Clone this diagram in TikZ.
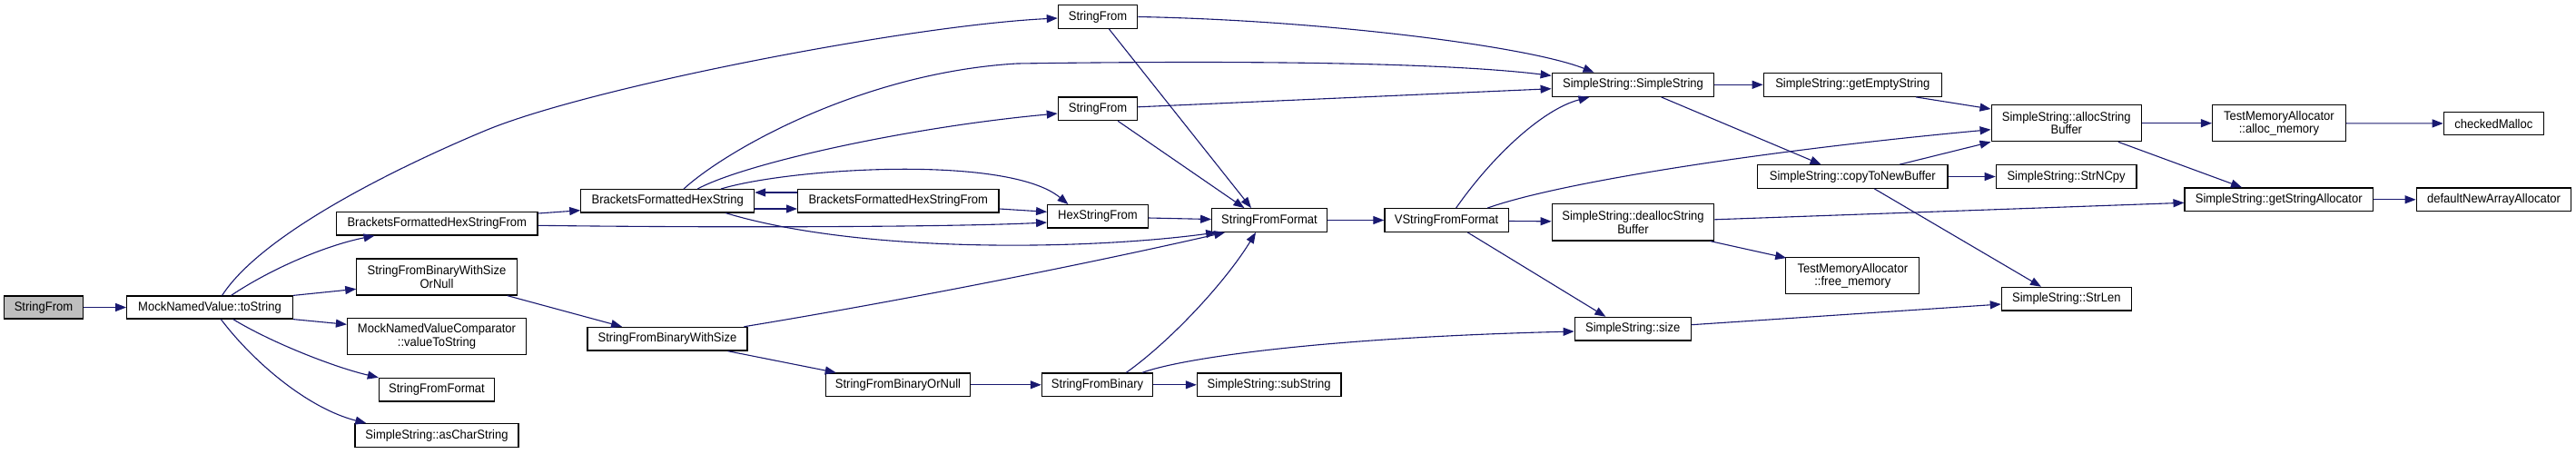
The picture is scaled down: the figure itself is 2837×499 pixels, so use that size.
\documentclass[tikz,border=0pt]{standalone}
\usepackage{fontspec}
\setmainfont{Liberation Sans}[FakeStretch=0.93]
\usetikzlibrary{arrows.meta,calc}
\definecolor{edgeblue}{RGB}{25,25,112}
\definecolor{rootgray}{RGB}{191,191,191}
\begin{document}
\begin{tikzpicture}[x=1pt,y=-1pt,
  box/.style={draw=black,line width=1.2pt,fill=white,inner sep=0pt,align=center,
    font=\fontsize{14}{14.5}\selectfont},
  e/.style={draw=edgeblue,line width=1.1pt,-{Triangle[length=12pt,width=9pt]}}]
\useasboundingbox[fill=white] (0,0) rectangle (2837,499);
% ---- nodes ----
\node[box,fill=rootgray,minimum width=87pt,minimum height=25pt] (root) at (48,338.5) {StringFrom};
\node[box,minimum width=182.6pt,minimum height=25pt] (toS) at (231,338.5) {MockNamedValue::toString};
\node[box,minimum width=221.4pt,minimum height=25.3pt] (A) at (481.3,246.3) {BracketsFormattedHexStringFrom};
\node[box,minimum width=176.3pt,minimum height=40pt] (orNull) at (481,305) {StringFromBinaryWithSize\\OrNull};
\node[box,minimum width=197pt,minimum height=39.7pt] (cmp) at (481,370.5) {MockNamedValueComparator\\::valueToString};
\node[box,minimum width=127.2pt,minimum height=25.7pt] (sffB) at (481,429.2) {StringFromFormat};
\node[box,minimum width=180pt,minimum height=25.7pt] (asChar) at (481,479.5) {SimpleString::asCharString};
\node[box,minimum width=87.3pt,minimum height=25.7pt] (sfC) at (1209,18.5) {StringFrom};
\node[box,minimum width=87.3pt,minimum height=25.7pt] (sfD) at (1209,119.8) {StringFrom};
\node[box,minimum width=190.8pt,minimum height=25.3pt] (bfhs) at (735.2,221.3) {BracketsFormattedHexString};
\node[box,minimum width=221.4pt,minimum height=25.3pt] (E) at (989.3,221.3) {BracketsFormattedHexStringFrom};
\node[box,minimum width=110.7pt,minimum height=25.3pt] (hex) at (1209,238.3) {HexStringFrom};
\node[box,minimum width=126.5pt,minimum height=25.7pt] (sff) at (1398,242.5) {StringFromFormat};
\node[box,minimum width=176pt,minimum height=25.7pt] (bws) at (735,373.2) {StringFromBinaryWithSize};
\node[box,minimum width=159.7pt,minimum height=25.7pt] (bon) at (989,423.8) {StringFromBinaryOrNull};
\node[box,minimum width=122.5pt,minimum height=25.7pt] (sfb) at (1208.6,423.8) {StringFromBinary};
\node[box,minimum width=158.6pt,minimum height=25.7pt] (sub) at (1397.7,423.8) {SimpleString::subString};
\node[box,minimum width=136.2pt,minimum height=25.7pt] (vsf) at (1593,242.5) {VStringFromFormat};
\node[box,minimum width=178.6pt,minimum height=26pt] (ssc) at (1798.5,93.3) {SimpleString::SimpleString};
\node[box,minimum width=196pt,minimum height=26pt] (empty) at (2040.3,93.3) {SimpleString::getEmptyString};
\node[box,minimum width=209.2pt,minimum height=25.6pt] (copy) at (2040.3,194.5) {SimpleString::copyToNewBuffer};
\node[box,minimum width=178.6pt,minimum height=40.3pt] (dealloc) at (1798.5,244.8) {SimpleString::deallocString\\Buffer};
\node[box,minimum width=147pt,minimum height=40pt] (free) at (2040.3,303.7) {TestMemoryAllocator\\::free\_memory};
\node[box,minimum width=128pt,minimum height=25.7pt] (size) at (1798.2,362.2) {SimpleString::size};
\node[box,minimum width=165.4pt,minimum height=40pt] (alloc) at (2275.8,135.7) {SimpleString::allocString\\Buffer};
\node[box,minimum width=146.7pt,minimum height=40pt] (amem) at (2509.9,135.7) {TestMemoryAllocator\\::alloc\_memory};
\node[box,minimum width=110pt,minimum height=25.4pt] (malloc) at (2746.3,136) {checkedMalloc};
\node[box,minimum width=154.6pt,minimum height=25.6pt] (ncpy) at (2275.6,194.5) {SimpleString::StrNCpy};
\node[box,minimum width=207.3pt,minimum height=25.7pt] (gsa) at (2509.7,219.8) {SimpleString::getStringAllocator};
\node[box,minimum width=170.6pt,minimum height=25.7pt] (dnaa) at (2746.5,219.8) {defaultNewArrayAllocator};
\node[box,minimum width=142.9pt,minimum height=25.7pt] (strlen) at (2275.8,329.2) {SimpleString::StrLen};
% ---- edges ----
\draw[e] (root) -- (toS);
\draw[e] ($(toS.north)+(13.6,0)$) .. controls (290,255) and (446.7,180.3) .. (535.7,143.3)
   .. controls (650,96) and (1000,28) .. ($(sfC.west)+(0,1.5)$);
\draw[e] ($(toS.north)+(23.5,0)$) .. controls (300,295) and (360,270) .. ($(A.south west)+(42.5,0)$);
\draw[e] (toS.north east) -- ($(orNull.west)+(0,13.3)$);
\draw[e] (toS.south east) -- ($(cmp.west)+(0,-13.2)$);
\draw[e] ($(toS.south)+(25.7,0)$) .. controls (300,378) and (370,405) .. (sffB.north west);
\draw[e] ($(toS.south)+(12.3,0)$) .. controls (280,400) and (340,450) .. ($(asChar.north west)+(13,0)$);
\draw[e] ($(A.east)+(0,-11.3)$) -- ($(bfhs.west)+(0,10.4)$);
\draw[e] ($(A.east)+(0,2)$) .. controls (800,251) and (1050,250) .. ($(hex.west)+(0,6.7)$);
\draw[e] ($(bfhs.north)+(17.8,0)$) .. controls (800,165) and (950,80) .. (1120,70)
   .. controls (1400,66) and (1600,70) .. ($(ssc.west)+(0,-10)$);
\draw[e] ($(bfhs.north)+(33,0)$) .. controls (820,180) and (1000,140) .. ($(sfD.west)+(0,5.2)$);
\draw[e] ($(bfhs.north)+(58.7,0)$) .. controls (870,185) and (1110,170) .. ($(hex.north)+(-32.5,0)$);
\draw[e] ($(bfhs.east)+(0,8.7)$) -- ($(E.west)+(0,8.7)$);
\draw[e] ($(E.west)+(0,-9.3)$) -- ($(bfhs.east)+(0,-9.3)$);
\draw[e] ($(bfhs.south)+(63.8,0)$) .. controls (950,280) and (1200,275) .. ($(sff.south west)+(6,0)$);
\draw[e] ($(E.east)+(0,8.7)$) -- ($(hex.west)+(0,-5)$);
\draw[e] ($(hex.east)+(0,1.7)$) -- ($(sff.west)+(0,-1)$);
\draw[e] (sfC.east) .. controls (1450,22) and (1680,50) .. ($(ssc.north)+(-43,0)$);
\draw[e] ($(sfC.south)+(12.4,0)$) -- ($(sff.north)+(-20,0)$);
\draw[e] ($(sfD.east)+(0,-2)$) -- ($(ssc.west)+(0,4.4)$);
\draw[e] ($(sfD.south)+(22.1,0)$) -- ($(sff.north)+(-27.6,0)$);
\draw[e] ($(orNull.south east)+(-11,0)$) -- ($(bws.north)+(-50,0)$);
\draw[e] ($(bws.north)+(84.4,0)$) .. controls (1000,330) and (1200,290) .. ($(sff.south west)+(15,0)$);
\draw[e] ($(bws.south)+(66.5,0)$) -- ($(bon.north west)+(12.2,0)$);
\draw[e] (bon) -- (sfb);
\draw[e] ($(sfb.north)+(31.7,0)$) .. controls (1290,375) and (1350,310) .. ($(sff.south)+(-15,0)$);
\draw[e] (sfb) -- (sub);
\draw[e] ($(sfb.north)+(49.4,0)$) .. controls (1300,395) and (1450,372) .. ($(size.west)+(0,2.8)$);
\draw[e] (sff) -- (vsf);
\draw[e] ($(vsf.north)+(10.6,0)$) .. controls (1645,170) and (1700,120) .. ($(ssc.south)+(-48,0)$);
\draw[e] ($(vsf.north)+(45.3,0)$) .. controls (1720,200) and (1950,165) .. ($(alloc.west)+(0,7)$);
\draw[e] ($(vsf.east)+(0,1)$) -- ($(dealloc.west)+(0,-1)$);
\draw[e] ($(vsf.south)+(23.3,0)$) -- ($(size.north)+(-29.8,0)$);
\draw[e] (ssc) -- (empty);
\draw[e] ($(ssc.south)+(31,0)$) -- ($(copy.north)+(-34.7,0)$);
\draw[e] ($(empty.south)+(69.7,0)$) -- ($(alloc.west)+(0,-15.7)$);
\draw[e] ($(copy.north)+(52,0)$) -- (alloc.south west);
\draw[e] (copy) -- (ncpy);
\draw[e] ($(copy.south)+(24,0)$) -- ($(strlen.north)+(-27.8,0)$);
\draw[e] ($(dealloc.east)+(0,-3)$) -- ($(gsa.west)+(0,3.5)$);
\draw[e] ($(dealloc.south east)+(-5,0)$) -- ($(free.north west)+(1,1)$);
\draw[e] ($(size.east)+(0,-4.5)$) -- ($(strlen.west)+(0,5.8)$);
\draw[e] (alloc) -- (amem);
\draw[e] ($(alloc.south)+(57,0)$) -- ($(gsa.north)+(-40.7,0)$);
\draw[e] (amem) -- (malloc);
\draw[e] (gsa) -- (dnaa);
\end{tikzpicture}
\end{document}
